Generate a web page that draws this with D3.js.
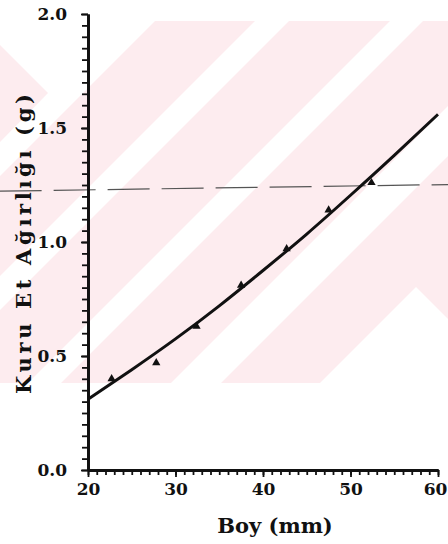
<!DOCTYPE html>
<html>
<head>
<meta charset="utf-8">
<script src="https://cdn.jsdelivr.net/npm/d3@7"></script>
<style>
  html, body { margin: 0; padding: 0; background: #fff; }
  svg { display: block; }
  .tick text { font-family: "DejaVu Serif", serif; font-weight: bold; }
</style>
</head>
<body>
<div id="chart"></div>
<script>
// ---- data ----
const curveX = [20, 25, 30, 35, 40, 45, 50, 55, 60];
const curveY = [0.31, 0.44, 0.575, 0.72, 0.875, 1.035, 1.205, 1.38, 1.56];
const pointX = [22.7, 27.8, 32.4, 37.5, 42.7, 47.5, 52.4];
const pointY = [0.40, 0.47, 0.63, 0.81, 0.97, 1.14, 1.26];
const refLineX = [9.9, 61.2];
const refLineY = [1.223, 1.252];
const xMajorTicks = [20, 30, 40, 50, 60];
const yMajorTicks = [0.0, 0.5, 1.0, 1.5, 2.0];
const xTitle = "Boy (mm)";
const yTitle = "Kuru Et Ağırlığı (g)";

const W = 448, H = 544;
const svg = d3.select("#chart").append("svg").attr("width", W).attr("height", H);

// ---- background watermark (decoration of the scanned page) ----
const pink = "#fdecef";
const wm = svg.append("g");
wm.append("rect").attr("x", 0).attr("y", 21).attr("width", W).attr("height", 362).attr("fill", pink);
const clip = svg.append("clipPath").attr("id", "wmclip");
clip.append("rect").attr("x", 0).attr("y", 21).attr("width", W).attr("height", 362);
const wmW = wm.append("g").attr("clip-path", "url(#wmclip)");
const whiteShapes = [
  [[0,21],[155,21],[0,176]],
  [[255,21],[289,21],[-73,383],[-107,383]],
  [[390,21],[423,21],[61,383],[28,383]],
  [[533,21],[583,21],[221,383],[171,383]],
  [[320,383],[416,287],[512,383]]
];
whiteShapes.forEach(p => wmW.append("polygon").attr("points", p.join(" ")).attr("fill", "#fff"));
wmW.append("polygon").attr("points", [[0,45],[48,93],[0,142]].join(" ")).attr("fill", pink);

// ---- scales ----
const x = d3.scaleLinear().domain([20, 60]).range([88, 438]);
const y = d3.scaleLinear().domain([0, 2]).range([470, 14]);

// ---- reference dash line ----
svg.append("line")
  .attr("x1", x(refLineX[0])).attr("y1", y(refLineY[0]))
  .attr("x2", x(refLineX[1])).attr("y2", y(refLineY[1]))
  .attr("stroke", "#555").attr("stroke-width", 1.2)
  .attr("stroke-dasharray", "42,12");

// ---- axes ----
function styleAxis(g) {
  g.selectAll("path").attr("stroke", "#111").attr("stroke-width", 2.8);
  g.selectAll("line").attr("stroke", "#111").attr("stroke-width", 1.8);
}
const yMinor = svg.append("g").attr("transform", "translate(88,0)")
  .call(d3.axisLeft(y).tickValues(d3.range(0, 40.5, 1).map(i => i * 0.05)).tickFormat("").tickSize(6).tickSizeOuter(0));
styleAxis(yMinor);
const yMajor = svg.append("g").attr("transform", "translate(88,0)")
  .call(d3.axisLeft(y).tickValues(yMajorTicks).tickFormat(d3.format(".1f")).tickSize(7).tickSizeOuter(0).tickPadding(14));
styleAxis(yMajor);
yMajor.selectAll("text").attr("font-size", 17).attr("fill", "#111");

const xMinor = svg.append("g").attr("transform", "translate(0,470)")
  .call(d3.axisBottom(x).tickValues(d3.range(20, 60.5, 1)).tickFormat("").tickSize(5).tickSizeOuter(0));
styleAxis(xMinor);
const xMajor = svg.append("g").attr("transform", "translate(0,470)")
  .call(d3.axisBottom(x).tickValues(xMajorTicks).tickFormat(d3.format("d")).tickSize(7).tickSizeOuter(0).tickPadding(6));
styleAxis(xMajor);
xMajor.selectAll("text").attr("font-size", 17).attr("fill", "#111")
  .attr("dx", d => d === 60 ? -3 : 0);

// ---- fitted curve ----
const curveData = curveX.map((v, i) => [v, curveY[i]]);
svg.append("path")
  .datum(curveData)
  .attr("fill", "none").attr("stroke", "#111").attr("stroke-width", 3)
  .attr("stroke-linejoin", "round")
  .attr("d", d3.line().x(d => x(d[0])).y(d => y(d[1])).curve(d3.curveNatural));

// ---- observed points ----
svg.append("g").selectAll("path")
  .data(pointX.map((v, i) => [v, pointY[i]]))
  .join("path")
  .attr("transform", d => `translate(${x(d[0])},${y(d[1])})`)
  .attr("d", d3.symbol(d3.symbolTriangle, 30))
  .attr("fill", "#111");

// ---- titles ----
svg.append("text")
  .attr("x", 275).attr("y", 533)
  .attr("text-anchor", "middle")
  .attr("font-family", "DejaVu Serif, serif").attr("font-weight", "bold")
  .attr("font-size", 21).attr("fill", "#111")
  .text(xTitle);

svg.append("text")
  .attr("transform", "translate(31,244) rotate(-90)")
  .attr("text-anchor", "middle")
  .attr("font-family", "DejaVu Serif, serif").attr("font-weight", "bold")
  .attr("font-size", 21).attr("fill", "#111")
  .attr("textLength", 300).attr("lengthAdjust", "spacing")
  .text(yTitle);
</script>
</body>
</html>
